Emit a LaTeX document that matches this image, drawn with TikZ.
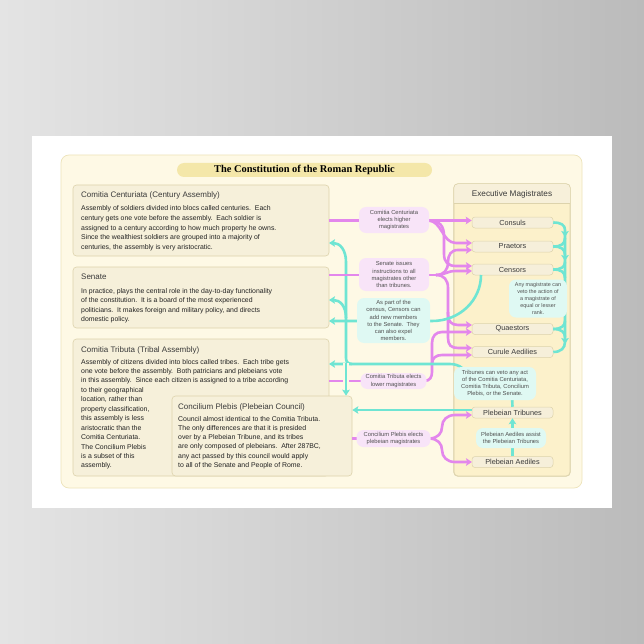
\documentclass[tikz,border=0pt]{standalone}
\usepackage{fontspec}
\setmainfont{Liberation Sans}
\newfontfamily\serifbold{Liberation Serif}
\usetikzlibrary{arrows.meta}
\definecolor{bgL}{HTML}{E4E4E4}
\definecolor{bgR}{HTML}{BBBBBB}
\definecolor{panelF}{HTML}{FEF9E5}
\definecolor{panelD}{HTML}{EDE3BA}
\definecolor{boxF}{HTML}{F6F0DA}
\definecolor{boxD}{HTML}{DDD3AC}
\definecolor{magF}{HTML}{F6EFDA}
\definecolor{pillF}{HTML}{F4E7A9}
\definecolor{execF}{HTML}{FCF1CB}
\definecolor{hdrF}{HTML}{F7F0DA}
\definecolor{pinkL}{HTML}{E387EC}
\definecolor{cyanL}{HTML}{6FE5D3}
\definecolor{pinkB}{HTML}{F8E4F8}
\definecolor{cyanB}{HTML}{DFF9F3}
\definecolor{txt}{HTML}{3A3A3A}
\definecolor{txtB}{HTML}{222222}
\definecolor{bubT}{HTML}{505050}
\begin{document}
\begin{tikzpicture}[x=1pt,y=-1pt,
 pk/.style={draw=pinkL, line width=2.6pt},
 cy/.style={draw=cyanL, line width=2.6pt},
 halo/.style={preaction={draw=panelF, line width=5.5pt}},
 arr/.style={-{Stealth[length=6pt,width=7.5pt,inset=1.2pt]}},
 lbox/.style={draw=boxD, fill=boxF, rounded corners=3.5pt, line width=0.6pt, inner sep=0},
 ttl/.style={anchor=west, inner sep=0, text=txt, font=\fontsize{8}{9.5}\selectfont},
 body/.style={anchor=north west, inner sep=0, align=left, text=txtB, font=\fontsize{6.9}{9.6}\selectfont},
 mag/.style={draw=boxD, fill=magF, rounded corners=3pt, minimum width=81pt, minimum height=11pt, inner sep=0, text=txt, font=\fontsize{7.3}{8.5}\selectfont, line width=0.5pt},
 bub/.style={rounded corners=7pt, inner sep=0, align=center, text=bubT, font=\fontsize{5.8}{7.1}\selectfont},
 pbub/.style={bub, fill=pinkB},
 cbub/.style={bub, fill=cyanB}]
\useasboundingbox (0,0) rectangle (644,644);
\shade[left color=bgL, right color=bgR] (0,0) rectangle (644,644);
\fill[white] (32,136) rectangle (612,508);
% main panel
\node[draw=panelD, fill=panelF, rounded corners=8pt, line width=0.7pt, minimum width=521pt, minimum height=333pt, inner sep=0] (panel) at (321.5,321.5) {};
\node[fill=pillF, rounded corners=7pt, minimum width=255pt, minimum height=14pt, inner sep=0] (title) at (304.5,170) {\serifbold\bfseries\fontsize{10.4}{11}\selectfont The Constitution of the Roman Republic};
% left boxes
\node[lbox, minimum width=256pt, minimum height=71pt] (cc) at (201,220.5) {};
\node[lbox, minimum width=256pt, minimum height=61pt] (sen) at (201,297.5) {};
\node[lbox, minimum width=256pt, minimum height=137pt] (tri) at (201,407.5) {};
\node[lbox, minimum width=180pt, minimum height=80pt] (plb) at (262,436) {};
\node[ttl] (ccT) at (81,195) {Comitia Centuriata (Century Assembly)};
\node[body] (ccB) at (81,205.8) {Assembly of soldiers divided into blocs called centuries.\ \ Each\\century gets one vote before the assembly.\ \ Each soldier is\\assigned to a century according to how much property he owns.\\Since the wealthiest soldiers are grouped into a majority of\\centuries, the assembly is very aristocratic.};
\node[ttl] (senT) at (81,277) {Senate};
\node[body] (senB) at (81,287.8) {In practice, plays the central role in the day-to-day functionality\\of the constitution.\ \ It is a board of the most experienced\\politicians.\ \ It makes foreign and military policy, and directs\\domestic policy.};
\node[ttl] (triT) at (81,350) {Comitia Tributa (Tribal Assembly)};
\node[body, font=\fontsize{6.9}{9.45}\selectfont] (triB) at (81,358.8) {Assembly of citizens divided into blocs called tribes.\ \ Each tribe gets\\one vote before the assembly.\ \ Both patricians and plebeians vote\\in this assembly.\ \ Since each citizen is assigned to a tribe according\\to their geographical\\location, rather than\\property classification,\\this assembly is less\\aristocratic than the\\Comitia Centuriata.\\The Concilium Plebis\\is a subset of this\\assembly.};
\node[ttl] (plbT) at (178,407) {Concilium Plebis (Plebeian Council)};
\node[body, font=\fontsize{6.9}{9.3}\selectfont] (plbB) at (178,415.8) {Council almost identical to the Comitia Tributa.\\The only differences are that it is presided\\over by a Plebeian Tribune, and its tribes\\are only composed of plebeians.\ \ After 287BC,\\any act passed by this council would apply\\to all of the Senate and People of Rome.};
% executive panel
\node[draw=boxD, fill=execF, rounded corners=4pt, line width=0.6pt, minimum width=116pt, minimum height=292pt, inner sep=0] (exec) at (512,330) {};
\begin{scope}
\clip[rounded corners=4pt] (454,184) rectangle (570,476);
\fill[hdrF] (454,184) rectangle (570,203);
\end{scope}
\draw[boxD, line width=0.6pt] (454,203) -- (570,203);
\draw[boxD, line width=0.6pt, rounded corners=4pt] (exec.north west) rectangle (exec.south east);
\node[inner sep=0, text=txt, font=\fontsize{8.2}{9.5}\selectfont] (execT) at (512,194) {Executive Magistrates};
\node[mag] (cons) at (512.5,222.5) {Consuls};
\node[mag] (pra) at (512.5,246.5) {Praetors};
\node[mag] (cen) at (512.5,269.5) {Censors};
\node[mag] (qua) at (512.5,329) {Quaestors};
\node[mag] (cur) at (512.5,352) {Curule Aedilies};
\node[mag] (pt) at (512.5,412.5) {Plebeian Tribunes};
\node[mag] (pa) at (512.5,462) {Plebeian Aediles};
% junction coordinates
\coordinate (jcc) at (428,220.5);
\coordinate (jsen) at (436,275);
\coordinate (jtri) at (424,381);
\coordinate (jplb) at (429,438.5);
% pink connectors
\draw[pk,arr] (cc.east) -- (cc.east -| cons.west);
\draw[pk,arr] (jcc) .. controls (442,220.5) and (442,243) .. (456,243) -- (472,243);
\draw[pk,arr] (jcc) .. controls (440,220.5) and (444,226) .. (444,236) -- (444,254) .. controls (444,262) and (448,266) .. (456,266) -- (472,266);
\draw[pk,arr] (jsen) .. controls (446,275) and (446,271) .. (456,271) -- (472,271);
\draw[pk,arr] (jsen) .. controls (444,275) and (448,270) .. (448,262) .. controls (448,255) and (451,250) .. (458,250) -- (472,250);
\draw[pk,arr] (jsen) .. controls (444,275) and (448,280) .. (448,288) -- (448,314) .. controls (448,321) and (451,325) .. (458,325) -- (472,325);
\draw[pk,arr] (448,312) -- (448,338) .. controls (448,345) and (451,348) .. (458,348) -- (472,348);
\draw[pk] (329,381) -- (362,381);
\draw[pk,arr] (jtri) .. controls (430,381) and (432,377) .. (432,372) -- (432,343) .. controls (432,336) and (436,332) .. (442,332) -- (472,332);
\draw[pk,arr] (432,364) .. controls (432,358) and (436,355) .. (442,355) -- (472,355);
\draw[pk] (352,438.5) -- (358,438.5);
\draw[pk,arr] (jplb) .. controls (438,438.5) and (442,433) .. (442,427) .. controls (442,420) and (447,415) .. (455,415) -- (472,415);
\draw[pk,arr] (jplb) .. controls (438,438.5) and (442,444) .. (442,450) .. controls (442,457) and (447,462) .. (455,462) -- (472,462);
% cyan connectors
\draw[cy] (pt.north) -- (512,396);
\draw[cy,arr] (468,380) .. controls (467,370) and (460,364) .. (450,364) -- (329,364);
\draw[cy] (346,262) -- (346,358) .. controls (346,362) and (348,364) .. (352,364);
\draw[cy,arr,halo] (346,363) -- (plb.north -| 346,0);
\draw[cy,arr] (346,262) .. controls (346,250) and (340,243) .. (329,243);
\draw[cy,arr] (346,318) .. controls (346,306) and (340,300) .. (329,300);
\draw[cy,arr] (481,275) .. controls (481,300) and (460,321) .. (432,321) -- (329,321);
\draw[cy,arr] (pt.west |- 0,410) -- (plb.east |- 0,410);
\draw[cy,arr] (pa.north) -- (pt.south);
% veto braces
\draw[cy] (cons.east) .. controls (561,222.5) and (565,225) .. (565,230) -- (565,342) .. controls (565,348) and (561,352) .. (cur.east);
\draw[cy] (pra.east) .. controls (561,246.5) and (565,244) .. (565,238);
\draw[cy] (pra.east) .. controls (561,246.5) and (565,249) .. (565,255);
\draw[cy] (cen.east) .. controls (561,269.5) and (565,267) .. (565,262);
\draw[cy] (cen.east) .. controls (561,269.5) and (565,272) .. (565,278);
\draw[cy] (qua.east) .. controls (561,329) and (565,326) .. (565,321);
\draw[cy] (qua.east) .. controls (561,329) and (565,332) .. (565,337);
\draw[cy,arr] (565,227) -- (565,237);
\draw[cy,arr] (565,251) -- (565,261);
\draw[cy,arr] (565,334) -- (565,344);
% senate pink main line on top
\draw[pk] (sen.east |- 0,275) -- (jsen);
% bubbles
\node[pbub, minimum width=70pt, minimum height=26pt] (b1) at (394,220) {Comitia Centuriata\\elects higher\\magistrates};
\node[pbub, minimum width=70pt, minimum height=33pt] (b2) at (394,274.5) {Senate issues\\instructions to all\\magistrates other\\than tribunes.};
\node[cbub, minimum width=73pt, minimum height=45pt] (b3) at (393.5,320.5) {As part of the\\census, Censors can\\add new members\\to the Senate.\ \ They\\can also expel\\members.};
\node[pbub, minimum width=66pt, minimum height=16pt] (b4) at (393.5,381) {Comitia Tributa elects\\lower magistrates};
\node[pbub, minimum width=74pt, minimum height=17pt] (b5) at (393.5,438.5) {Concilium Plebis elects\\plebeian magistrates};
\node[cbub, minimum width=58pt, minimum height=38pt, font=\fontsize{5.4}{7}\selectfont] (b6) at (538,298.5) {Any magistrate can\\veto the action of\\a magistrate of\\equal or lesser\\rank.};
\node[cbub, minimum width=82pt, minimum height=33pt] (b7) at (495,383.5) {Tribunes can veto any act\\of the Comitia Centuriata,\\Comitia Tributa, Concilium\\Plebis, or the Senate.};
\node[cbub, minimum width=70pt, minimum height=20pt] (b8) at (511,438) {Plebeian Aediles assist\\the Plebeian Tribunes};
\end{tikzpicture}
\end{document}
